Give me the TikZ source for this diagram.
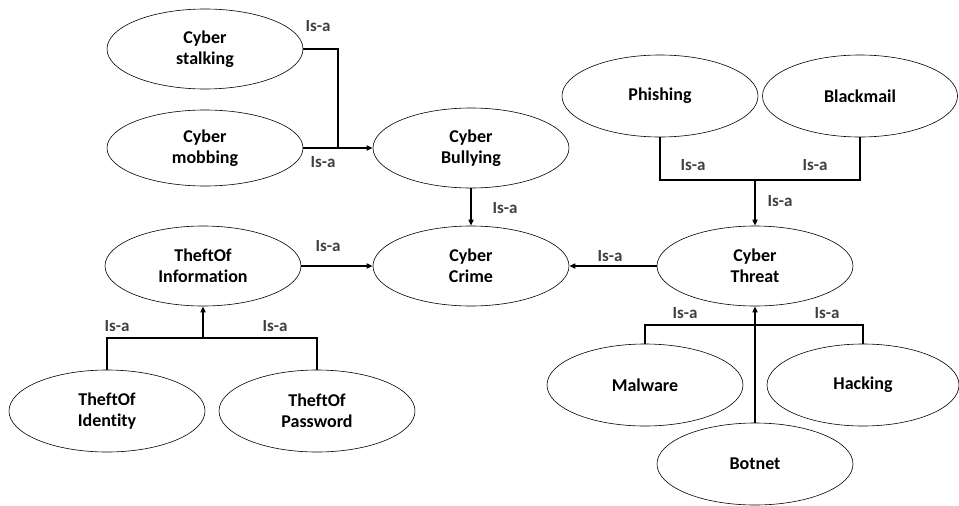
\documentclass[tikz,border=0pt]{standalone}
\usepackage{fontspec}
\setmainfont{Carlito}[Ligatures={NoCommon,TeX}]
\usetikzlibrary{shapes.geometric,arrows.meta}
\begin{document}
\begin{tikzpicture}[x=1pt,y=-1pt,
  concept/.style={ellipse,draw,line width=0.6pt,minimum width=196pt,minimum height=80pt,inner sep=0pt,align=center,font=\fontsize{18}{21}\selectfont\bfseries},
  link/.style={line width=1.6pt},
  isarrow/.style={line width=1.6pt,-{Triangle[length=6pt,width=5pt]}},
  lbl/.style={font=\fontsize{17}{19}\selectfont\bfseries,text=black!75,inner sep=1pt}]
\useasboundingbox (0,0) rectangle (959,506);
\node[concept] (stalk) at (205,49) {Cyber\\stalking};
\node[concept,minimum height=76pt] (mob) at (205,148) {Cyber\\mobbing};
\node[concept] (bul) at (471,148) {Cyber\\Bullying};
\node[concept] (crime) at (471,266) {Cyber\\Crime};
\node[concept] (info) at (203,266) {TheftOf\\Information};
\node[concept,minimum height=82pt] (ident) at (107,411) {TheftOf\\Identity};
\node[concept,minimum height=82pt] (pass) at (317,411) {TheftOf\\Password};
\node[concept,minimum height=82pt] (phish) at (660,96) {Phishing};
\node[concept,minimum height=82pt,minimum width=195pt] (black) at (860,96) {Blackmail};
\node[concept] (threat) at (755,266) {Cyber\\Threat};
\node[concept,minimum height=82pt] (mal) at (645,385) {Malware};
\node[concept,minimum height=82pt,minimum width=192pt] (hack) at (863,385) {Hacking};
\node[concept,minimum height=82pt] (bot) at (755,464) {Botnet};
\coordinate (jb) at (338,148);
\coordinate (jt) at (755,180);
\coordinate (jm) at (755,325);
\coordinate (ji) at (203,338);
\draw[link] (stalk.east) -| (jb);
\draw[isarrow] (mob.east) -- (bul.west);
\draw[isarrow] (bul.south) -- (crime.north);
\draw[isarrow] (info.east) -- (crime.west);
\draw[isarrow] (threat.west) -- (crime.east);
\draw[link] (phish.south) |- (jt) -| (black.south);
\draw[isarrow] (jt) -- (threat.north);
\draw[link] (mal.north) |- (jm) -| (hack.north);
\draw[isarrow] (bot.north) -- (threat.south);
\draw[link] (ident.north) |- (ji) -| (pass.north);
\draw[isarrow] (ji) -- (info.south);
\node[lbl] (l1) at (318,26) {Is-a};
\node[lbl] (l2) at (323,162) {Is-a};
\node[lbl] (l3) at (505,208) {Is-a};
\node[lbl] (l4) at (328,246) {Is-a};
\node[lbl] (l5) at (610,256) {Is-a};
\node[lbl] (l6) at (693,165) {Is-a};
\node[lbl] (l7) at (815,165) {Is-a};
\node[lbl] (l8) at (780,201) {Is-a};
\node[lbl] (l9) at (685,313) {Is-a};
\node[lbl] (l10) at (827,313) {Is-a};
\node[lbl] (l11) at (117,326) {Is-a};
\node[lbl] (l12) at (275,326) {Is-a};
\end{tikzpicture}
\end{document}
